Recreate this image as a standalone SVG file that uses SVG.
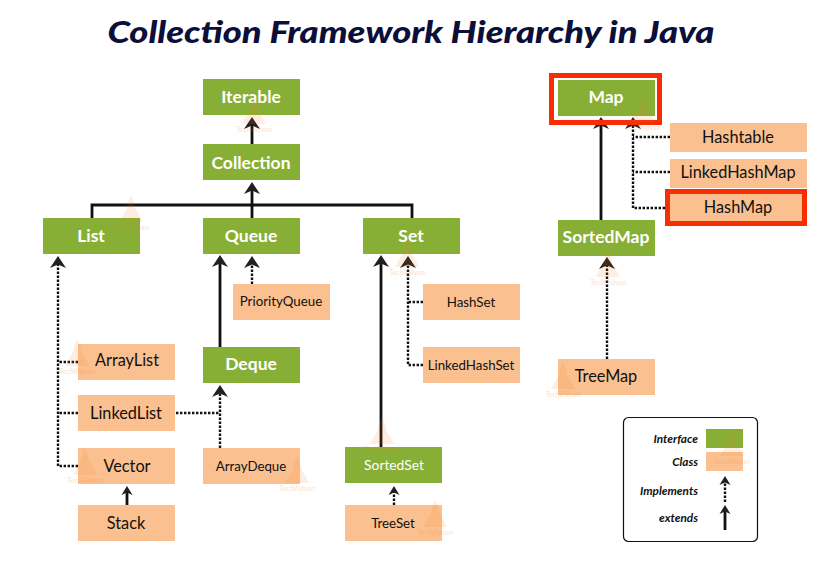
<svg xmlns="http://www.w3.org/2000/svg" width="822" height="576" viewBox="0 0 822 576">
<style>
text{font-family:Lato,"Open Sans","Liberation Sans",sans-serif;text-anchor:middle}
.i{fill:#88af35}.c{fill:#fbc08f}
.it{fill:#fff;font-size:17.500px;font-weight:700}
.ct{fill:#111;font-size:16.300px}
.cs{fill:#111;font-size:13.300px}
.s{fill:none;stroke:#111;stroke-width:2.800}
.d{fill:none;stroke:#111;stroke-width:2.400;stroke-dasharray:2.400 1.600}
.r{fill:none;stroke:#f92d04;stroke-width:5}
.h{fill:#231f20}
.l{fill:#111;font-size:11.800px;font-style:italic;font-weight:700;text-anchor:end}
.w{fill:#f47b20;opacity:.13}
.wt{fill:#f47b20;opacity:.18;font-size:7px;font-weight:700}
</style>
<defs>
<path id="a" class="h" d="M0 0L8 12L0 8.500L-8 12Z"/>
<path id="as" class="h" d="M0 0L5.500 9L0 6.500L-5.500 9Z"/>
<g id="wm"><path class="w" d="M0 -27C3 -22 4 -17 4 -14L10 -4L12 0H-12L-10 -4L-4 -14C-4 -18 -2 -23 0 -27Z"/><text class="wt" y="8">TechVidvan</text></g>
</defs>
<text x="411" y="43" style="font-size:31px;font-weight:900;font-style:italic;fill:#0b0f3a" textLength="607" lengthAdjust="spacingAndGlyphs">Collection Framework Hierarchy in Java</text>
<g id="connectors">
<path class="s" d="M252 144V122M252 218V187M92 218V205H412V218M220 347V260M381 447V260M601 220V123M127 505V492M725 530V510"/>
<path class="d" d="M78 362H58M78 413H58M78 466H58V262M252 284V264M423 302H408M423 365H408V262M670 137H633M670 172H633M665 208H633V124M607 359V263M176 413H220M220 448V392M394 505V492M725 502V482"/>
<use href="#a" x="252" y="117"/><use href="#a" x="252" y="182"/><use href="#a" x="58" y="256"/><use href="#a" x="220" y="255"/><use href="#a" x="252" y="256"/><use href="#a" x="381" y="255"/><use href="#a" x="408" y="256"/><use href="#a" x="601" y="117"/><use href="#a" x="633" y="117"/><use href="#a" x="607" y="257"/><use href="#a" x="220" y="385"/>
<use href="#as" x="127" y="486"/><use href="#as" x="394" y="486"/><use href="#as" x="725" y="476"/><use href="#as" x="725" y="505"/>
</g>
<g id="iterable"><rect class="i" x="203" y="79" width="97" height="36"/><text class="it" x="251" y="103">Iterable</text></g>
<g id="collection"><rect class="i" x="203" y="144" width="97" height="36"/><text class="it" x="251" y="169">Collection</text></g>
<g id="list"><rect class="i" x="43" y="218" width="97" height="36"/><text class="it" x="91" y="242">List</text></g>
<g id="queue"><rect class="i" x="203" y="218" width="97" height="36"/><text class="it" x="251" y="242">Queue</text></g>
<g id="set"><rect class="i" x="363" y="218" width="97" height="36"/><text class="it" x="411" y="242">Set</text></g>
<g id="map"><rect class="i" x="558" y="80" width="97" height="36"/><rect class="r" x="551.500" y="75.500" width="108" height="47"/><text class="it" x="606" y="103">Map</text></g>
<g id="hashtable"><rect class="c" x="670" y="123" width="137" height="29"/><text class="ct" x="738" y="143">Hashtable</text></g>
<g id="linkedhashmap"><rect class="c" x="670" y="159" width="137" height="29"/><text class="ct" x="738" y="178">LinkedHashMap</text></g>
<g id="hashmap"><rect class="c" x="667" y="191" width="138" height="33"/><rect class="r" x="667.500" y="191.500" width="137" height="32"/><text class="ct" x="738" y="213">HashMap</text></g>
<g id="sortedmap"><rect class="i" x="558" y="220" width="97" height="36"/><text class="it" x="606" y="243">SortedMap</text></g>
<g id="treemap"><rect class="c" x="558" y="359" width="97" height="36"/><text class="ct" x="606" y="382">TreeMap</text></g>
<g id="priorityqueue"><rect class="c" x="233" y="284" width="97" height="36"/><text class="cs" x="281" y="306">PriorityQueue</text></g>
<g id="hashset"><rect class="c" x="423" y="284" width="97" height="36"/><text class="cs" x="471" y="307">HashSet</text></g>
<g id="linkedhashset"><rect class="c" x="423" y="347" width="97" height="36"/><text class="cs" x="471" y="370">LinkedHashSet</text></g>
<g id="deque"><rect class="i" x="203" y="347" width="97" height="36"/><text class="it" x="251" y="370">Deque</text></g>
<g id="arraylist"><rect class="c" x="78" y="344" width="97" height="36"/><text class="ct" x="127" y="366">ArrayList</text></g>
<g id="linkedlist"><rect class="c" x="78" y="395" width="97" height="36"/><text class="ct" x="126" y="419">LinkedList</text></g>
<g id="vector"><rect class="c" x="78" y="448" width="97" height="36"/><text class="ct" x="127" y="472">Vector</text></g>
<g id="stack"><rect class="c" x="78" y="505" width="97" height="36"/><text class="ct" x="126" y="529">Stack</text></g>
<g id="arraydeque"><rect class="c" x="203" y="448" width="97" height="36"/><text class="cs" x="251" y="471">ArrayDeque</text></g>
<g id="sortedset"><rect class="i" x="345" y="447" width="97" height="36"/><text class="it" x="394" y="470" style="font-weight:400;font-size:13.800px">SortedSet</text></g>
<g id="treeset"><rect class="c" x="345" y="505" width="97" height="36"/><text class="cs" x="393" y="528">TreeSet</text></g>
<g id="legend">
<rect x="623.500" y="417.500" width="134" height="124" rx="5" fill="none" stroke="#111" stroke-width="1.200"/>
<rect class="i" x="706" y="429" width="37" height="19"/><rect class="c" x="706" y="452" width="37" height="19"/>
<text class="l" x="698" y="443">Interface</text><text class="l" x="698" y="466">Class</text><text class="l" x="698" y="495">Implements</text><text class="l" x="698" y="522">extends</text>
</g>
<g id="watermarks">
<use href="#wm" x="254" y="124"/><use href="#wm" x="131" y="222"/><use href="#wm" x="643" y="122"/><use href="#wm" x="608" y="277"/><use href="#wm" x="77" y="366"/><use href="#wm" x="85" y="475"/><use href="#wm" x="297" y="483"/><use href="#wm" x="407" y="267"/><use href="#wm" x="382" y="444"/><use href="#wm" x="435" y="527"/><use href="#wm" x="732" y="456"/><use href="#wm" x="563" y="389"/>
</g>
</svg>
